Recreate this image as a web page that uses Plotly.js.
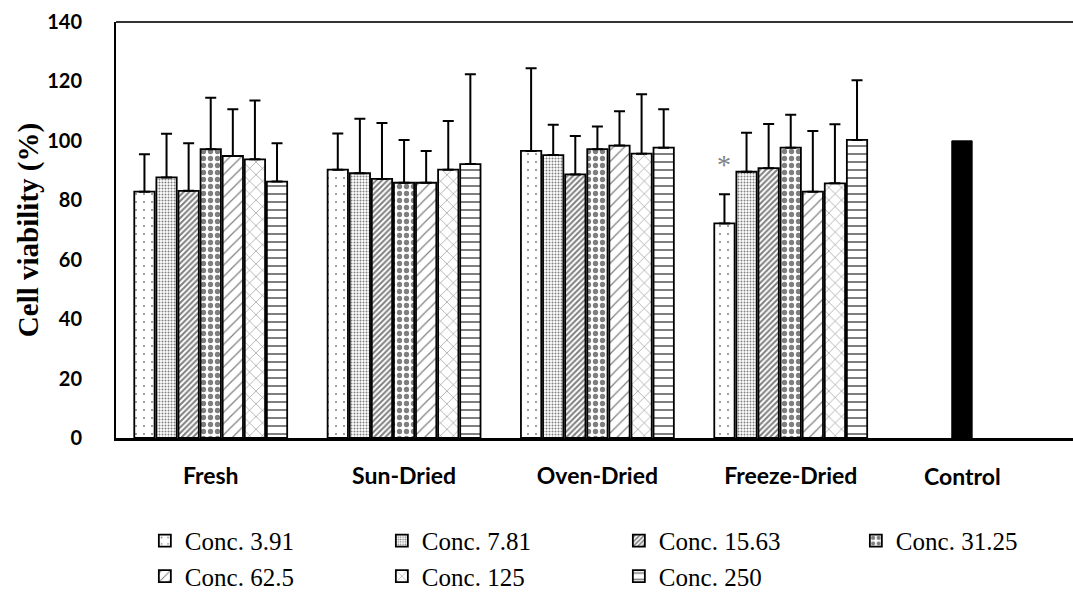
<!DOCTYPE html>
<html>
<head>
<meta charset="utf-8">
<script src="https://cdn.plot.ly/plotly-3.0.1.min.js"></script>
<style>html,body{margin:0;padding:0;background:#fff;}#chart{width:1073px;height:594px;}</style>
</head>
<body>
<div id="chart"></div>
<script>
const categories = ['Fresh', 'Sun-Dried', 'Oven-Dried', 'Freeze-Dried'];
const seriesNames = ['Conc. 3.91', 'Conc. 7.81', 'Conc. 15.63', 'Conc. 31.25', 'Conc. 62.5', 'Conc. 125', 'Conc. 250'];

const conc391  = [82.9, 90.3, 96.6, 72.2];
const conc781  = [87.7, 89.1, 95.2, 89.6];
const conc1563 = [83.2, 87.2, 88.7, 90.8];
const conc3125 = [97.2, 85.9, 97.2, 97.7];
const conc625  = [94.9, 85.9, 98.4, 82.9];
const conc125  = [93.8, 90.3, 95.7, 85.7];
const conc250  = [86.3, 92.2, 97.7, 100.3];

const err391  = [12.6, 12.2, 27.8, 9.8];
const err781  = [14.7, 18.3, 10.2, 13.1];
const err1563 = [16.0, 18.8, 12.9, 14.9];
const err3125 = [17.3, 14.4, 7.6, 11.1];
const err625  = [15.7, 10.7, 11.6, 20.4];
const err125  = [19.8, 16.4, 20.0, 19.9];
const err250  = [12.9, 30.2, 12.9, 20.1];

const controlCategory = ['Control'];
const controlValue = [100];

const yTickVals = [0, 20, 40, 60, 80, 100, 120, 140];

const values = [conc391, conc781, conc1563, conc3125, conc625, conc125, conc250];
const errors = [err391, err781, err1563, err3125, err625, err125, err250];

const patterns = [
  {shape: '.', size: 8, solidity: 0.05},
  {shape: '.', size: 3, solidity: 0.35},
  {shape: '/', size: 4, solidity: 0.5},
  {shape: '.', size: 7, solidity: 0.45},
  {shape: '/', size: 8, solidity: 0.15},
  {shape: 'x', size: 9, solidity: 0.12},
  {shape: '-', size: 8, solidity: 0.25}
];

const traces = values.map((v, i) => ({
  type: 'bar',
  name: seriesNames[i],
  x: categories,
  y: v,
  offsetgroup: String(i + 1),
  marker: {
    color: 'white',
    line: {color: 'black', width: 1.8},
    pattern: Object.assign({fgcolor: 'black', bgcolor: 'white', fillmode: 'overlay'}, patterns[i])
  },
  error_y: {
    type: 'data', symmetric: false, array: errors[i],
    arrayminus: errors[i].map(() => 0),
    color: 'black', thickness: 2, width: 5.5
  },
  hoverinfo: 'x+y+name'
}));

traces.push({
  type: 'bar',
  name: 'Control',
  x: controlCategory,
  y: controlValue,
  offsetgroup: '3',
  showlegend: false,
  marker: {color: 'black', line: {color: 'black', width: 1}}
});

const tickFont = {family: 'Lato, Open Sans, sans-serif', size: 23, color: 'black', weight: 'bold'};
const allCats = categories.concat(controlCategory);

const layout = {
  width: 1073, height: 594,
  margin: {l: 116, r: 0, t: 22, b: 156},
  paper_bgcolor: 'white', plot_bgcolor: 'white',
  barmode: 'group',
  bargap: 0.2, bargroupgap: 0.08,
  showlegend: true,
  legend: {
    orientation: 'h', xref: 'container', yref: 'container',
    x: 0.135, y: 0.128, xanchor: 'left', yanchor: 'top',
    font: {family: 'Liberation Serif, Times New Roman, serif', size: 25, color: 'black'},
    entrywidthmode: 'pixels', entrywidth: 192,
    traceorder: 'normal', itemwidth: 30
  },
  xaxis: {
    type: 'category',
    categoryorder: 'array', categoryarray: allCats,
    tickvals: allCats,
    ticktext: categories.concat(['']),
    range: [-0.49, 4.46],
    showline: true, linecolor: 'black', linewidth: 3,
    ticks: '', showgrid: false, zeroline: false,
    tickfont: tickFont,
    ticklabelstandoff: 15
  },
  yaxis: {
    range: [0, 140], tickvals: yTickVals,
    showline: true, linecolor: 'black', linewidth: 2,
    ticks: '', showgrid: false, zeroline: false,
    tickfont: {family: 'Lato, Open Sans, sans-serif', size: 20, color: 'black', weight: 'bold'},
    ticklabelstandoff: 28,
    title: {text: 'Cell viability (%)', standoff: 0,
      font: {family: 'Liberation Serif, Times New Roman, serif', size: 29, color: 'black', weight: 'bold'}}
  },
  shapes: [{type: 'line', xref: 'paper', yref: 'paper', x0: 0, x1: 1, y0: 1, y1: 1,
    line: {color: '#333', width: 1.8}}],
  annotations: [
    {
      x: 'Freeze-Dried', y: 92, xref: 'x', yref: 'y', xshift: -67,
      text: '*', showarrow: false,
      font: {family: 'Liberation Serif, Times New Roman, serif', size: 28, color: '#808080'}
    },
    {
      x: 'Control', y: 0, xref: 'x', yref: 'y', xshift: -22, yshift: -22,
      yanchor: 'top', text: 'Control', showarrow: false, font: tickFont
    }
  ]
};

Plotly.newPlot('chart', traces, layout, {displayModeBar: false, staticPlot: true});
</script>
</body>
</html>
